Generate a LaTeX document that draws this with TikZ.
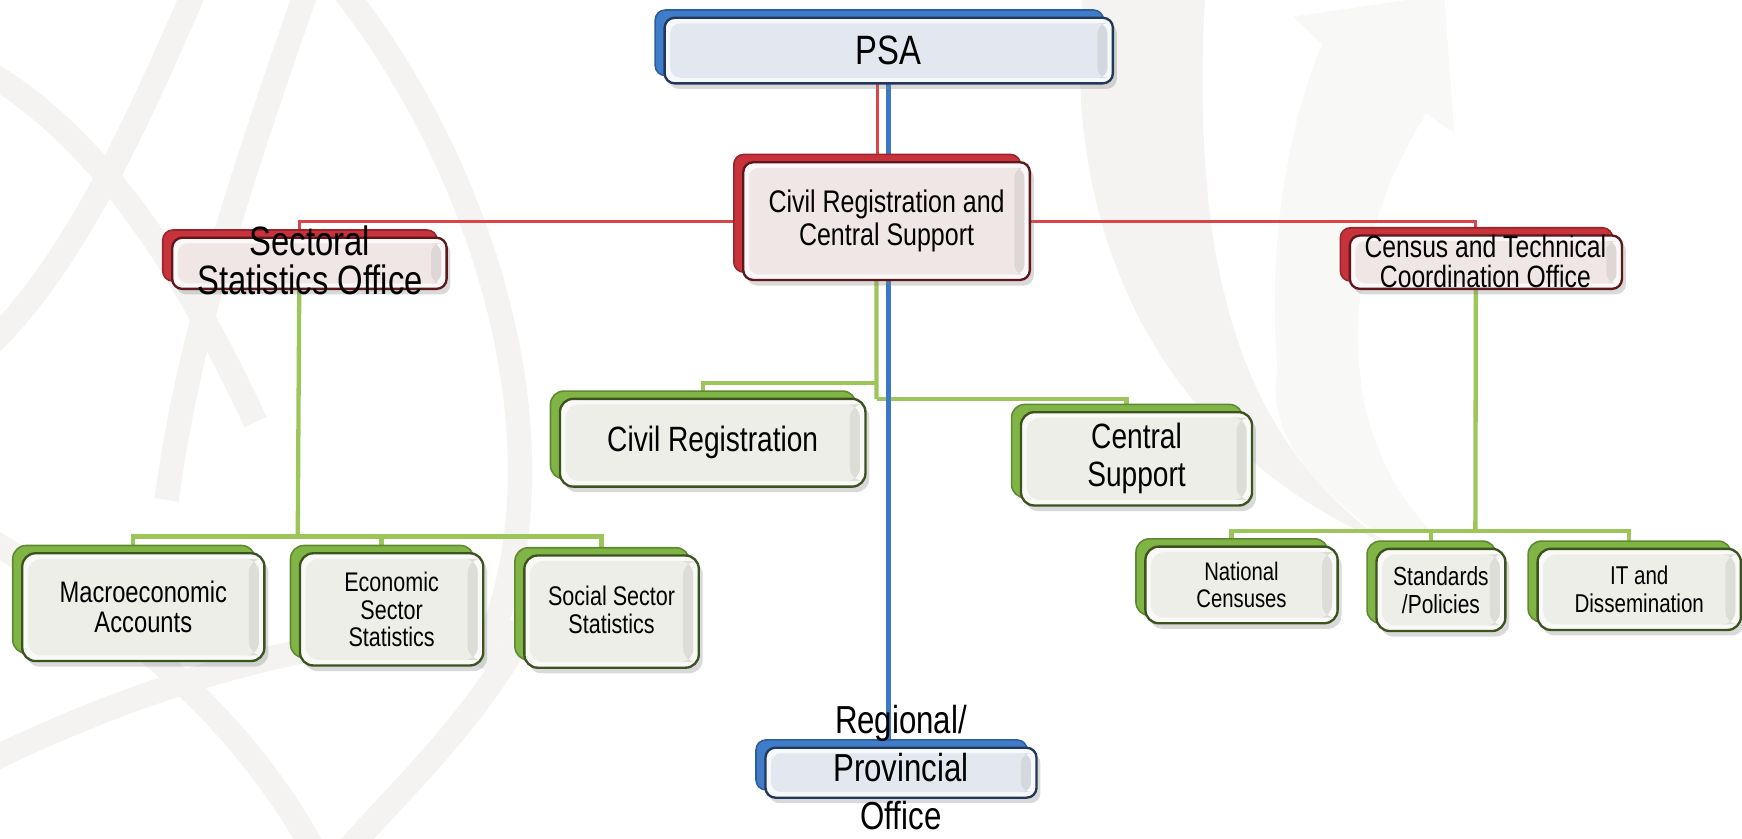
\documentclass[tikz,border=0pt]{standalone}
\usepackage{fontspec}
\newfontfamily\agency[FakeStretch=0.8]{Liberation Sans}
\usetikzlibrary{positioning,shadows}

\definecolor{bluepl}{HTML}{3F7CC9}
\definecolor{bluefr}{HTML}{E3E8F0}
\definecolor{bluedk}{HTML}{22385A}
\definecolor{redpl}{HTML}{C8323A}
\definecolor{redfr}{HTML}{F0E6E6}
\definecolor{reddk}{HTML}{5E171B}
\definecolor{grnpl}{HTML}{80B545}
\definecolor{grnfr}{HTML}{ECEEE7}
\definecolor{grndk}{HTML}{3C521F}
\definecolor{redln}{HTML}{D8464C}
\definecolor{blueln}{HTML}{3B79C6}
\definecolor{grnln}{HTML}{9CC65A}
\definecolor{wmk}{HTML}{F4F3F1}

\pgfdeclarelayer{wmark}
\pgfdeclarelayer{lines}
\pgfsetlayers{wmark,lines,main}

\tikzset{
  orgbox/.style n args={3}{rounded corners=0.9mm, line width=0.6pt, inner sep=0pt,
    draw=#3, fill=#2!30!white,
    drop shadow={shadow xshift=0.35mm, shadow yshift=-0.5mm, opacity=0.3},
    copy shadow={shadow xshift=-0.85mm, shadow yshift=0.7mm, fill=#1, draw=#1!75!black, line width=0.4pt},
    path picture={
      \fill[#2] ([shift={(0.5mm,-0.5mm)}]path picture bounding box.north west) rectangle ([shift={(-0.5mm,0.5mm)}]path picture bounding box.south east);
      \fill[#2!93!black] ([shift={(-1.4mm,-0.5mm)}]path picture bounding box.north east) rectangle ([shift={(-0.5mm,0.5mm)}]path picture bounding box.south east);
    }},
  bluebox/.style={orgbox={bluepl}{bluefr}{bluedk}},
  redbox/.style={orgbox={redpl}{redfr}{reddk}},
  grnbox/.style={orgbox={grnpl}{grnfr}{grndk}, rounded corners=1.2mm},
  txt/.style={align=center, text=black, inner sep=0pt},
  redc/.style={draw=redln, line width=0.8pt},
  bluec/.style={draw=blueln, line width=1.3pt},
  grnc/.style={draw=grnln, line width=1.1pt},
  band/.style={draw=wmk, line width=2.2mm},
}

\begin{document}
\begin{tikzpicture}[x=0.1mm,y=-0.1mm]
\useasboundingbox (0,0) rectangle (1568,755);
%
\node[bluebox, minimum width=40.35mm, minimum height=5.9mm] (psa) at (800,45.5) {};
\node[redbox, minimum width=25.8mm, minimum height=10.6mm] (crcs) at (798,199) {};
\node[redbox, minimum width=24.7mm, minimum height=4.6mm] (sso) at (278.5,237) {};
\node[redbox, minimum width=24.5mm, minimum height=4.8mm] (ctco) at (1337.5,236) {};
\node[grnbox, minimum width=27.5mm, minimum height=7.9mm] (civ) at (641.5,398.5) {};
\node[grnbox, minimum width=20.8mm, minimum height=8.4mm] (cen) at (1023,413) {};
\node[grnbox, minimum width=21.8mm, minimum height=9.7mm] (mac) at (129,546.5) {};
\node[grnbox, minimum width=16.5mm, minimum height=10.1mm] (eco) at (352.5,548.5) {};
\node[grnbox, minimum width=15.7mm, minimum height=10.1mm] (soc) at (550.5,550.5) {};
\node[grnbox, minimum width=17.3mm, minimum height=6.9mm] (nat) at (1117.5,526.5) {};
\node[grnbox, minimum width=11.6mm, minimum height=7.4mm] (std) at (1297,531) {};
\node[grnbox, minimum width=18.3mm, minimum height=7.3mm] (itd) at (1475.5,530.5) {};
\node[bluebox, minimum width=24.4mm, minimum height=4.5mm] (rpo) at (811,695.5) {};
%
\node[txt, font=\agency\fontsize{10.5}{11}\selectfont] (psa-t) at (psa) {PSA};
\node[txt, font=\agency\fontsize{8}{8.5}\selectfont] (crcs-t) at (crcs) {Civil Registration and\\Central Support};
\node[txt, font=\agency\fontsize{10.5}{10}\selectfont] (sso-t) at (279,234) {Sectoral\\Statistics Office};
\node[txt, font=\agency\fontsize{7.9}{7.7}\selectfont] (ctco-t) at (1337,235) {Census and Technical\\Coordination Office};
\node[txt, font=\agency\fontsize{9}{9.7}\selectfont] (civ-t) at (civ) {Civil Registration};
\node[txt, font=\agency\fontsize{9}{9.7}\selectfont] (cen-t) at (cen) {Central\\Support};
\node[txt, font=\agency\fontsize{7.6}{7.7}\selectfont] (mac-t) at (mac) {Macroeconomic\\Accounts};
\node[txt, font=\agency\fontsize{6.9}{7}\selectfont] (eco-t) at (eco) {Economic\\Sector\\Statistics};
\node[txt, font=\agency\fontsize{6.9}{7.2}\selectfont] (soc-t) at (550.5,549) {Social Sector\\Statistics};
\node[txt, font=\agency\fontsize{6.5}{6.9}\selectfont] (nat-t) at (nat) {National\\Censuses};
\node[txt, font=\agency\fontsize{6.7}{7.1}\selectfont] (std-t) at (std) {Standards\\/Policies};
\node[txt, font=\agency\fontsize{6.6}{7.1}\selectfont] (itd-t) at (itd) {IT and\\Dissemination};
\node[txt, font=\agency\fontsize{10}{12.3}\selectfont] (rpo-t) at (811,691) {Regional/\\Provincial\\Office};
%
\begin{pgfonlayer}{lines}
\coordinate (jl) at (268,483);
\coordinate (jr) at (1328,478);
\coordinate (jc1) at (789,345);
\coordinate (jc2) at (789,359);
%
\draw[redc] ([xshift=-1mm]psa.center) -- ([xshift=-1mm]psa.center |- crcs.center);
\draw[redc] ([xshift=-0.9mm]sso.center) |- (crcs.center);
\draw[redc] ([xshift=-0.9mm]ctco.center) |- (crcs.center);
%
\draw[grnc] ([xshift=-0.9mm]sso.center) -- (jl);
\draw[grnc] ([xshift=-0.9mm]mac.center) |- (jl) -| ([xshift=-0.9mm]soc.center);
\draw[grnc] ([xshift=-0.9mm]eco.center) -- ([xshift=-0.9mm]eco.center |- jl);
\draw[grnc] ([xshift=-0.9mm]ctco.center) -- (jr);
\draw[grnc] ([xshift=-0.9mm]nat.center) |- (jr) -| ([xshift=-0.9mm]itd.center);
\draw[grnc] ([xshift=-0.9mm]std.center) -- ([xshift=-0.9mm]std.center |- jr);
\draw[grnc] ([xshift=-0.9mm]crcs.center) -- (jc2);
\draw[grnc] (jc1) -| ([xshift=-0.9mm]civ.center);
\draw[grnc] (jc2) -| ([xshift=-0.9mm]cen.center);
%
\draw[bluec] (psa.center) -- (psa.center |- rpo.center);
\end{pgfonlayer}
%
\begin{pgfonlayer}{wmark}
\begin{scope}
\clip (0,0) rectangle (1568,755);
% globe, left
\draw[band] (300,-20) .. controls (440,150) and (520,420) .. (430,600);
\draw[band] (180,-20) .. controls (120,120) and (60,250) .. (-20,320);
\draw[band] (-20,60) .. controls (90,120) and (170,250) .. (230,380);
\draw[band] (280,-20) .. controls (220,150) and (170,300) .. (150,450);
\draw[band] (-20,480) .. controls (120,560) and (230,660) .. (290,780);
\draw[band] (-20,690) .. controls (120,620) and (300,560) .. (470,570);
\draw[band] (470,570) .. controls (420,660) and (350,720) .. (300,780);
% arrow, right
\fill[wmk] (975,-10) .. controls (950,250) and (1080,420) .. (1250,490)
  .. controls (1120,400) and (1070,250) .. (1085,-10) -- cycle;
\fill[wmk!60!white] (1240,480) .. controls (1170,430) and (1140,380) .. (1150,334)
  .. controls (1140,220) and (1160,110) .. (1190,40) -- (1164,15) -- (1300,-5)
  -- (1309,120) -- (1284,102) .. controls (1240,170) and (1215,260) .. (1224,334)
  .. controls (1230,400) and (1260,450) .. (1290,480) -- cycle;
\end{scope}
\end{pgfonlayer}
\end{tikzpicture}
\end{document}
